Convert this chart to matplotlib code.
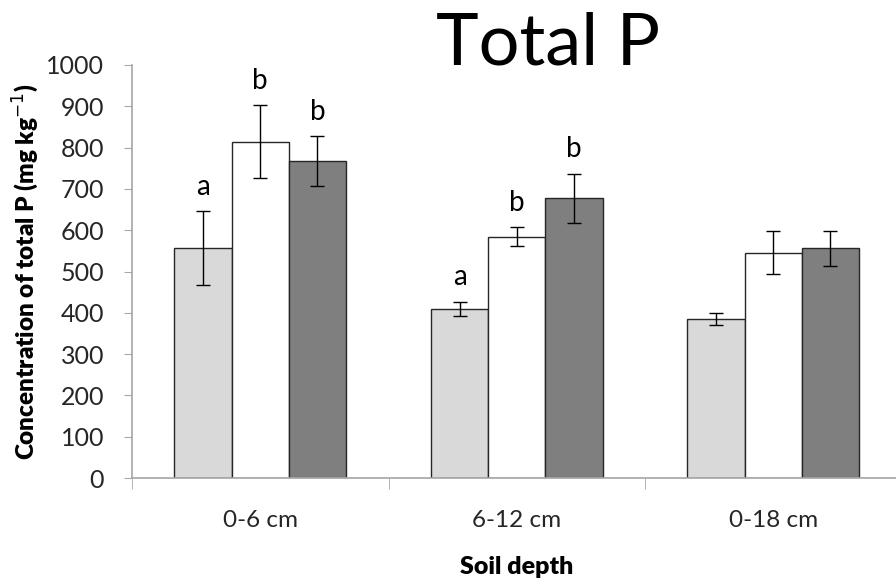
import numpy as np
import matplotlib.pyplot as plt

# values
depths = ["0-6 cm", "6-12 cm", "0-18 cm"]
series_a = [557, 409, 385]   # light grey bars
series_b = [814, 584, 546]   # white bars
series_c = [767, 677, 556]   # dark grey bars
err_a = [89, 17, 15]
err_b = [88, 23, 53]
err_c = [60, 60, 43]
letters_a = ["a", "a", ""]
letters_b = ["b", "b", ""]
letters_c = ["b", "b", ""]

plt.rcParams['font.family'] = ['Lato', 'DejaVu Sans']

fig = plt.figure(figsize=(8.96, 5.81), dpi=100)
ax = fig.add_axes([132 / 896, 103 / 581, 769.5 / 896, 413 / 581])

x = np.arange(len(depths))
w = 0.223
colors = ["#d9d9d9", "#ffffff", "#7f7f7f"]
groups = [(series_a, err_a, letters_a), (series_b, err_b, letters_b), (series_c, err_c, letters_c)]

for i, (vals, errs, letters) in enumerate(groups):
    pos = x + (i - 1) * w
    ax.bar(pos, vals, width=w, color=colors[i], edgecolor="#262626", linewidth=1.0, zorder=2)
    ax.errorbar(pos, vals, yerr=errs, fmt="none", ecolor="black", elinewidth=1.0,
                capsize=4.8, capthick=1.0, zorder=3)
    for p, v, e, t in zip(pos, vals, errs, letters):
        if t:
            ax.text(p, v + e + 28, t, ha="center", va="bottom", fontsize=20, color="black")

ax.set_xlim(-0.5, 2.5)
ax.set_ylim(0, 1000)
ax.set_yticks(np.arange(0, 1001, 100))
ax.set_xticks(x)
ax.set_xticklabels(depths)
ax.set_xticks([-0.5, 0.5, 1.5, 2.5], minor=True)

for s in ["top", "right"]:
    ax.spines[s].set_visible(False)
for s in ["left", "bottom"]:
    ax.spines[s].set_color("#a6a6a6")
    ax.spines[s].set_linewidth(1.2)

ax.tick_params(axis="y", direction="out", length=6, color="#a6a6a6", labelsize=18,
               labelcolor="#262626", pad=14)
ax.tick_params(axis="x", which="major", length=0, labelsize=17.5, labelcolor="#262626", pad=23)
ax.tick_params(axis="x", which="minor", direction="out", length=8, color="#a6a6a6")

ax.set_ylabel("Concentration of total P (mg kg$^{-1}$)", fontsize=17.5, fontweight="heavy",
              color="black", labelpad=4)
ax.set_xlabel("Soil depth", fontsize=18, fontweight="heavy", color="black", labelpad=18)

fig.text(548 / 896, 1 - 44 / 581, "Total P", ha="center", va="center", fontsize=52,
         color="black")

fig.savefig("out.png", dpi=100)
